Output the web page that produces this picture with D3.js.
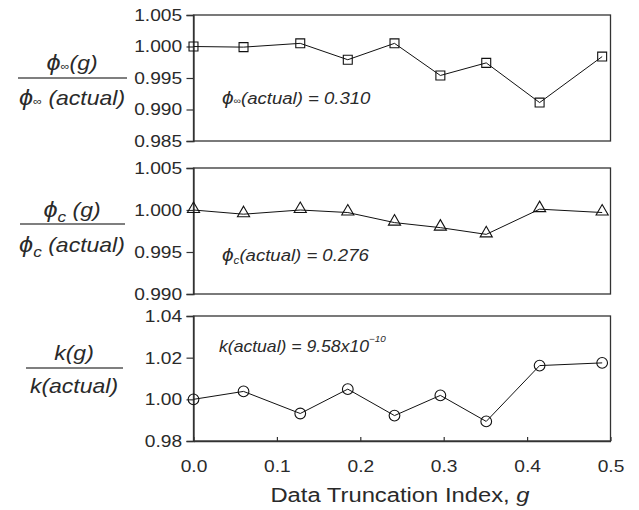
<!DOCTYPE html>
<html>
<head>
<meta charset="utf-8">
<script src="https://cdn.jsdelivr.net/npm/d3@7"></script>
<style>
  html, body { margin: 0; padding: 0; background: #fff; }
  svg { display: block; font-family: Arial, "Liberation Sans", sans-serif; }
</style>
</head>
<body>
<svg id="chart" width="639" height="510"></svg>
<script>
// Data truncation index g for each run
const truncIndex = [0.0, 0.06, 0.128, 0.185, 0.241, 0.296, 0.351, 0.415, 0.49];

// Ratios of fitted parameter to the actual value
const phiInfRatio = [1.0000, 0.9999, 1.0005, 0.9979, 1.0005, 0.9954, 0.9974, 0.9911, 0.9984];
const phiCRatio   = [1.0000, 0.9995, 1.0000, 0.9997, 0.9985, 0.9979, 0.9971, 1.0001, 0.9997];
const kRatio      = [1.0000, 1.0038, 0.9932, 1.0049, 0.9922, 1.0019, 0.9894, 1.0162, 1.0175];

// Tick values
const xTicks = [0, 0.1, 0.2, 0.3, 0.4, 0.5];
const phiInfTicks = [0.985, 0.990, 0.995, 1.000, 1.005];
const phiCTicks   = [0.990, 0.995, 1.000, 1.005];
const kTicks      = [0.98, 1.00, 1.02, 1.04];

const svg = d3.select("#chart");
const textColor = "#2a2a2a";
const axisColor = "#333";
const FONT = "Arial, 'Liberation Sans', sans-serif";
const SX = 1.13;   // horizontal widening of the lettering

const x = d3.scaleLinear().domain([0, 0.5]).range([193.5, 610.5]);

const panels = [
  { values: phiInfRatio, ticks: phiInfTicks, domain: [0.985, 1.005], range: [141, 15], fmt: d3.format(".3f"), marker: "square" },
  { values: phiCRatio,   ticks: phiCTicks,   domain: [0.990, 1.005], range: [294, 168], fmt: d3.format(".3f"), marker: "triangle" },
  { values: kRatio,      ticks: kTicks,      domain: [0.98, 1.04],   range: [441, 316], fmt: d3.format(".2f"), marker: "circle" }
];

panels.forEach((p, i) => {
  const y = d3.scaleLinear().domain(p.domain).range(p.range);
  const g = svg.append("g");

  // frame
  g.append("rect")
    .attr("x", x.range()[0]).attr("y", p.range[1])
    .attr("width", x.range()[1] - x.range()[0])
    .attr("height", p.range[0] - p.range[1])
    .attr("fill", "none").attr("stroke", axisColor).attr("stroke-width", 1.3);

  // y axis
  const yAxis = g.append("g")
    .attr("transform", `translate(${x.range()[0]},0)`)
    .call(d3.axisLeft(y).tickValues(p.ticks).tickFormat(p.fmt).tickSize(7).tickPadding(3));
  yAxis.select(".domain").attr("stroke", axisColor).attr("stroke-width", 1.3);
  yAxis.selectAll(".tick line").attr("stroke", axisColor).attr("stroke-width", 1.2);
  yAxis.selectAll(".tick text")
    .attr("fill", textColor).style("font-size", "17px").style("font-family", FONT)
    .attr("transform", `scale(${SX},1)`);

  // x axis on the bottom panel only
  if (i === 2) {
    const xAxis = g.append("g")
      .attr("transform", `translate(0,${p.range[0]})`)
      .call(d3.axisBottom(x).tickValues(xTicks).tickFormat(d3.format(".1f")).tickSizeInner(-4).tickSizeOuter(0).tickPadding(19));
    xAxis.select(".domain").attr("stroke", axisColor).attr("stroke-width", 1.3);
    xAxis.selectAll(".tick line").attr("stroke", axisColor).attr("stroke-width", 1.2);
    xAxis.selectAll(".tick text")
      .attr("fill", textColor).style("font-size", "17px").style("font-family", FONT)
      .attr("transform", `scale(${SX},1)`);
  }

  // connecting line
  const line = d3.line().x((d, j) => x(truncIndex[j])).y(d => y(d));
  g.append("path").datum(p.values)
    .attr("d", line).attr("fill", "none")
    .attr("stroke", "#111").attr("stroke-width", 1);

  // markers
  const symType = p.marker === "square" ? d3.symbolSquare
                : p.marker === "triangle" ? d3.symbolTriangle : d3.symbolCircle;
  const symSize = p.marker === "square" ? 80 : p.marker === "triangle" ? 64 : 90;
  g.selectAll(".pt").data(p.values).join("path")
    .attr("transform", (d, j) => `translate(${x(truncIndex[j])},${y(d) + (p.marker === "triangle" ? -1 : 0)})`)
    .attr("d", d3.symbol().type(symType).size(symSize))
    .attr("fill", "none").attr("stroke", "#111").attr("stroke-width", 1.1);
});

// text placed at (tx, ty) and widened horizontally
function wideText(tx, ty, size, anchor, sx) {
  return svg.append("text")
    .attr("transform", `translate(${tx},${ty}) scale(${sx},1)`)
    .attr("text-anchor", anchor)
    .attr("fill", textColor).style("font-size", size + "px").style("font-family", FONT);
}

// fraction labels on the left
function fraction(cx, lineY, x0, x1, numY, denY, num, den) {
  svg.append("line").attr("x1", x0).attr("x2", x1).attr("y1", lineY).attr("y2", lineY)
    .attr("stroke", "#555").attr("stroke-width", 1.3);
  num(wideText(cx, numY, 20, "middle", 1.15).style("font-style", "italic"));
  den(wideText(cx, denY, 20, "middle", 1.15).style("font-style", "italic"));
}

fraction(72, 78, 18, 127, 70, 105,
  t => { t.append("tspan").text("ϕ").style("font-size", "22px"); t.append("tspan").text("∞").style("font-size", "11px"); t.append("tspan").text("(g)"); },
  t => { t.append("tspan").text("ϕ").style("font-size", "22px"); t.append("tspan").text("∞").style("font-size", "11px"); t.append("tspan").text(" (actual)"); });

fraction(72, 224, 20, 125, 217, 252,
  t => { t.append("tspan").text("ϕ").style("font-size", "22px"); t.append("tspan").text("c").attr("dy", 5).style("font-size", "15px"); t.append("tspan").text(" (g)").attr("dy", -5); },
  t => { t.append("tspan").text("ϕ").style("font-size", "22px"); t.append("tspan").text("c").attr("dy", 5).style("font-size", "15px"); t.append("tspan").text(" (actual)").attr("dy", -5); });

fraction(74, 368, 26, 123, 360, 393,
  t => t.text("k(g)"),
  t => t.text("k(actual)"));

// in-panel annotations
const ann1 = wideText(222, 104, 16, "start", 1.16).style("font-style", "italic");
ann1.append("tspan").text("ϕ").style("font-size", "18px");
ann1.append("tspan").text("∞").style("font-size", "9px");
ann1.append("tspan").text("(actual) = 0.310");

const ann2 = wideText(222, 261, 16, "start", 1.16).style("font-style", "italic");
ann2.append("tspan").text("ϕ").style("font-size", "18px");
ann2.append("tspan").text("c").attr("dy", 3).style("font-size", "10px");
ann2.append("tspan").text("(actual) = 0.276").attr("dy", -3);

const ann3 = wideText(219, 352, 16, "start", 1.1).style("font-style", "italic");
ann3.append("tspan").text("k(actual) = 9.58x10");
ann3.append("tspan").text("−10").attr("dy", -10).style("font-size", "9px");

// x axis title
const xt = wideText(400, 502, 20, "middle", 1.19);
xt.append("tspan").text("Data Truncation Index, ");
xt.append("tspan").text("g").style("font-style", "italic");
</script>
</body>
</html>
